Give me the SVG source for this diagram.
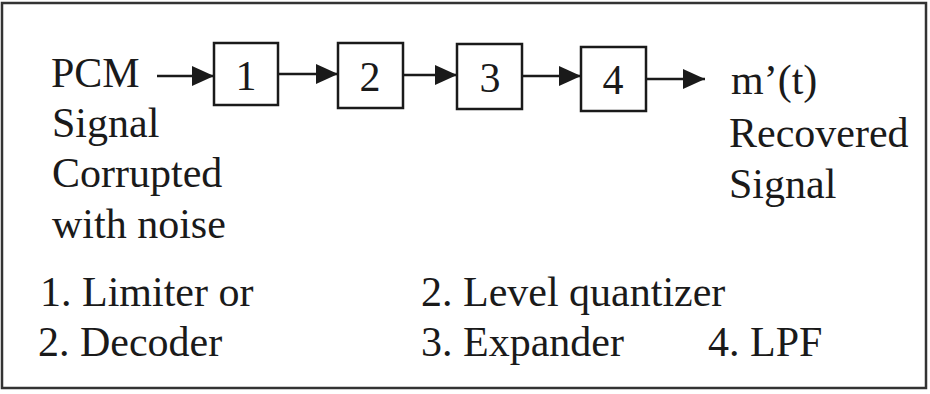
<svg xmlns="http://www.w3.org/2000/svg" width="930" height="394" viewBox="0 0 930 394">
<style>
.b{fill:#fff;stroke:#1a1a1a;stroke-width:2.5}
</style>
<defs>
<marker id="ah" markerWidth="24" markerHeight="22" refX="22" refY="10" markerUnits="userSpaceOnUse" orient="auto">
<path d="M0,0 L22,10 L0,20 Z" fill="#1a1a1a"/>
</marker>
</defs>
<rect x="2" y="3" width="924" height="385" fill="#fff" stroke="#333" stroke-width="2.5"/>
<g font-family="Liberation Serif" font-size="42" fill="#1a1a1a">
<g id="n1"><rect class="b" x="214" y="43" width="64" height="62"/><text x="246" y="90" text-anchor="middle" font-family="Liberation Serif">1</text></g>
<g id="n2"><rect class="b" x="338" y="43" width="65" height="65"/><text x="370" y="91" text-anchor="middle" font-family="Liberation Serif">2</text></g>
<g id="n3"><rect class="b" x="457" y="44" width="65" height="65"/><text x="490" y="92" text-anchor="middle" font-family="Liberation Serif">3</text></g>
<g id="n4"><rect class="b" x="581" y="47" width="65" height="64"/><text x="613" y="94" text-anchor="middle" font-family="Liberation Serif">4</text></g>
<g id="connectors" stroke="#1a1a1a" stroke-width="2.5" fill="none">
<line x1="157" y1="76" x2="214" y2="76" marker-end="url(#ah)"/>
<line x1="278" y1="74" x2="338" y2="74" marker-end="url(#ah)"/>
<line x1="403" y1="75" x2="457" y2="75" marker-end="url(#ah)"/>
<line x1="522" y1="76" x2="581" y2="76" marker-end="url(#ah)"/>
<line x1="646" y1="79" x2="705" y2="79" marker-end="url(#ah)"/>
</g>
<g id="input">
<text x="51" y="87" font-family="Liberation Serif">PCM</text>
<text x="52" y="137" font-family="Liberation Serif">Signal</text>
<text x="52" y="187" font-family="Liberation Serif">Corrupted</text>
<text x="52" y="238" font-family="Liberation Serif">with noise</text>
</g>
<g id="output">
<text x="731" y="94" font-family="Liberation Serif">m’(t)</text>
<text x="729" y="147" font-family="Liberation Serif">Recovered</text>
<text x="729" y="198" font-family="Liberation Serif">Signal</text>
</g>
<g id="legend">
<text x="40" y="306" font-family="Liberation Serif">1. Limiter or</text>
<text x="38" y="356" font-family="Liberation Serif">2. Decoder</text>
<text x="421" y="306" font-family="Liberation Serif">2. Level quantizer</text>
<text x="421" y="356" font-family="Liberation Serif">3. Expander</text>
<text x="708" y="356" font-family="Liberation Serif">4. LPF</text>
</g>
</g>
</svg>
